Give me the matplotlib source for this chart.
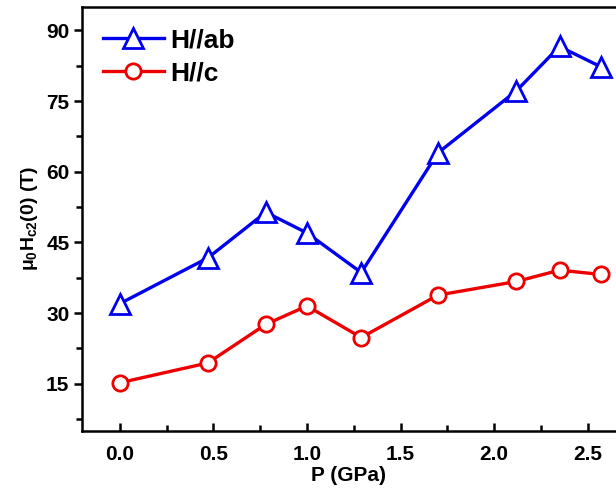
import matplotlib
matplotlib.use('Agg')
import matplotlib.pyplot as plt
from matplotlib.ticker import MultipleLocator

plt.rcParams['font.family'] = ['Liberation Sans', 'DejaVu Sans']
plt.rcParams['font.weight'] = 'bold'
plt.rcParams['mathtext.fontset'] = 'custom'
plt.rcParams['mathtext.rm'] = 'Liberation Sans:bold'
plt.rcParams['mathtext.it'] = 'Liberation Sans:bold'
plt.rcParams['mathtext.bf'] = 'Liberation Sans:bold'

# data
pressure = [0.0, 0.47, 0.78, 1.0, 1.29, 1.7, 2.12, 2.35, 2.57]
hc2_ab = [32.0, 41.7, 51.4, 47.0, 38.6, 64.0, 77.2, 86.6, 82.3]
hc2_c = [15.2, 19.4, 27.6, 31.5, 24.8, 33.8, 36.7, 39.1, 38.2]

fig = plt.figure(figsize=(6.16, 4.94), dpi=100)
ax = fig.add_axes([0.133, 0.128, 0.867, 0.858])

ax.plot(pressure, hc2_ab, color='#0000ee', lw=2.4, marker='^', ms=15,
        mfc='white', mec='#0000ee', mew=2.0, label='H//ab')
ax.plot(pressure, hc2_c, color='#ee0000', lw=2.4, marker='o', ms=11,
        mfc='white', mec='#ee0000', mew=2.0, label='H//c')

ax.set_xlim(-0.203, 2.652)
ax.set_ylim(5, 95)
ax.xaxis.set_major_locator(MultipleLocator(0.5))
ax.xaxis.set_minor_locator(MultipleLocator(0.25))
ax.yaxis.set_major_locator(MultipleLocator(15))
ax.yaxis.set_minor_locator(MultipleLocator(7.5))
ax.spines['right'].set_visible(False)
for s in ax.spines.values():
    s.set_linewidth(1.8)
ax.tick_params(axis='x', which='both', direction='in', width=1.8)
ax.tick_params(axis='y', which='both', direction='out', width=1.8)
ax.tick_params(which='major', length=6, labelsize=15)
ax.tick_params(which='minor', length=4)
ax.tick_params(axis='x', which='major', pad=10)
ax.tick_params(axis='y', which='major', pad=3)
for lab in ax.get_xticklabels() + ax.get_yticklabels():
    lab.set_fontweight('bold')

ax.set_xlabel('P (GPa)', fontsize=15, fontweight='bold', labelpad=2)
ax.set_ylabel(r'$\mu_0$H$_{c2}$(0) (T)', fontsize=14, fontweight='bold', labelpad=4)

ax.legend(loc='upper left', frameon=False, handlelength=2.3,
          handletextpad=0.25, labelspacing=0.35, borderaxespad=0.4,
          borderpad=0.4, prop={'weight': 'bold', 'size': 19})

fig.savefig('out.png', dpi=100)
